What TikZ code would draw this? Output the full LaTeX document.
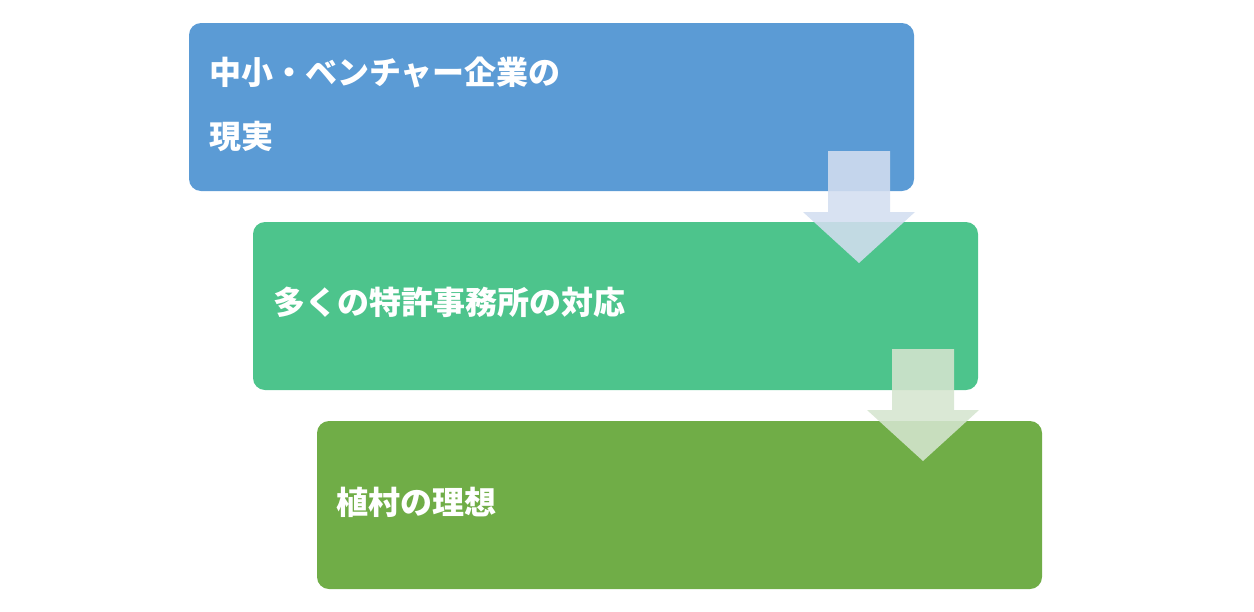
\documentclass[tikz,border=0pt]{standalone}
\usepackage{fontspec}
\newfontfamily\cjk{Noto Sans CJK JP}
\definecolor{cA}{HTML}{5B9BD5}
\definecolor{cB}{HTML}{4DC48C}
\definecolor{cC}{HTML}{70AD47}
\definecolor{aA}{HTML}{D3DEF0}
\definecolor{aB}{HTML}{D5E5CF}
\begin{document}
\begin{tikzpicture}[x=1pt,y=-1pt,
  box/.style={rounded corners=12pt,draw=none},
  lbl/.style={text=white,font=\cjk\bfseries\fontsize{32}{64}\selectfont,anchor=west,align=left,inner sep=0pt},
  arr/.style={draw=none,fill opacity=0.88}]
\useasboundingbox (0,0) rectangle (1254,611);
\fill[box,fill=cA] (189,23) rectangle (914,191);
\fill[box,fill=cB] (253,222) rectangle (978,390);
\fill[box,fill=cC] (317,421) rectangle (1042,589);
\node[lbl] (t1) at (209,104) {中小・ベンチャー企業の\\現実};
\node[lbl] (t2) at (273,302) {多くの特許事務所の対応};
\node[lbl] (t3) at (336,502) {植村の理想};
\fill[arr,fill=aA] (828,151) -- (890,151) -- (890,212) -- (915,212) -- (859,263) -- (803,212) -- (828,212) -- cycle;
\fill[arr,fill=aB] (892,349) -- (954,349) -- (954,410) -- (979,410) -- (923,461) -- (867,410) -- (892,410) -- cycle;
\end{tikzpicture}
\end{document}
